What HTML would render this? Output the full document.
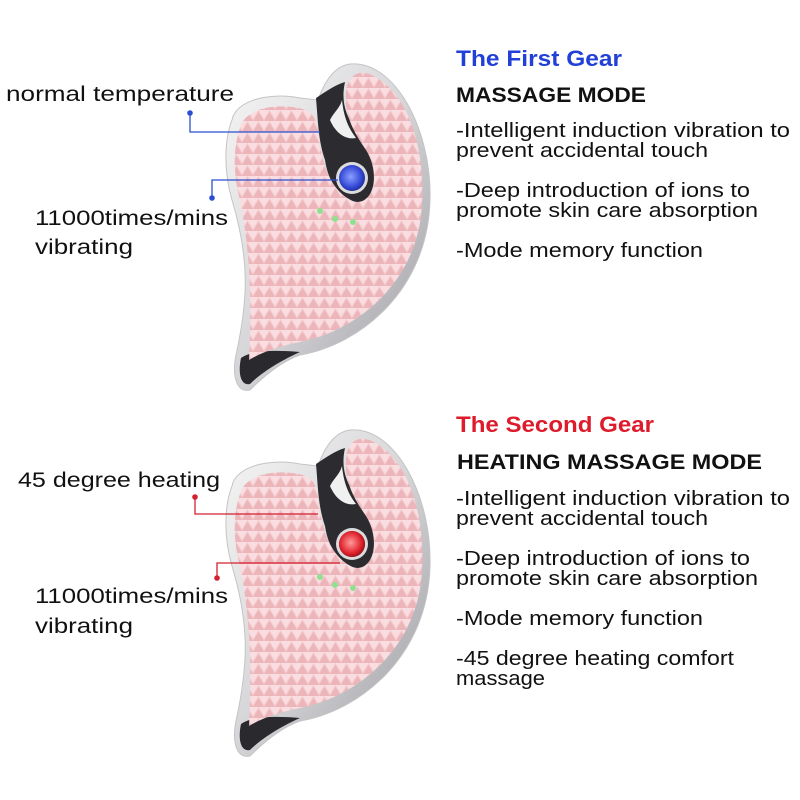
<!DOCTYPE html>
<html><head><meta charset="utf-8"><style>
html,body{margin:0;padding:0;background:#fff;}
svg{display:block;}
text{font-family:"Liberation Sans",sans-serif;}
</style></head><body>
<svg width="800" height="800" viewBox="0 0 800 800" xmlns="http://www.w3.org/2000/svg">
<defs>
<pattern id="tri" width="11" height="11" patternUnits="userSpaceOnUse">
<rect width="11" height="11" fill="#f4c9cc"/>
<path d="M0 11 L5.5 2 L11 11 Z" fill="#ecb5ba"/>
<path d="M0 0 L5.5 0 L0 9 Z M11 0 L5.5 0 L11 9Z" fill="#f9dde0"/>
</pattern>
<linearGradient id="silver" x1="0" y1="0" x2="1" y2="1">
<stop offset="0" stop-color="#f6f6f6"/><stop offset="0.5" stop-color="#d6d6d9"/><stop offset="1" stop-color="#9a9a9f"/>
</linearGradient>
<radialGradient id="blue" cx="0.45" cy="0.45" r="0.6"><stop offset="0" stop-color="#8aa0ff"/><stop offset="0.7" stop-color="#3347d6"/><stop offset="1" stop-color="#1d2a8a"/></radialGradient>
<radialGradient id="red" cx="0.45" cy="0.45" r="0.6"><stop offset="0" stop-color="#ff9a9a"/><stop offset="0.7" stop-color="#e0202a"/><stop offset="1" stop-color="#8a1015"/></radialGradient>
<g id="dev">
<path d="M232,120 C236,100 270,92 300,98 L318,100 C325,80 335,66 350,64 C395,60 432,130 430,200 C428,290 360,345 300,355 C280,362 262,378 250,390 C236,393 232,375 236,355 C248,300 250,260 232,200 C222,165 226,135 232,120 Z" fill="url(#silver)" stroke="#c4c4c4" stroke-width="1"/>
<path d="M250,384 C240,386 238,372 241,358 C252,350 275,350 300,352 C282,360 262,372 250,384Z" fill="#2a2a2e"/>
<path d="M316,98 C318,120 318,140 325,160 C330,195 355,210 372,198 C385,180 375,155 360,135 C348,120 340,105 345,82 C335,85 325,92 316,98 Z" fill="#2c2c30"/>
<path d="M330,120 C334,112 340,108 342,100 C344,120 350,130 356,138 C346,140 336,134 330,120Z" fill="#f0f0f0"/>
<path d="M240,128 C244,110 272,103 298,108 C312,110 316,118 318,130 C320,150 325,190 355,202 C375,204 380,172 366,150 C352,130 342,110 347,86 C352,72 362,70 374,76 C410,96 425,150 422,205 C418,280 360,330 300,342 C280,346 262,352 249,360 C252,300 250,250 240,200 C232,170 234,145 240,128 Z" fill="url(#tri)"/>
<circle cx="352" cy="178" r="16" fill="#dcdcdc"/>
<circle cx="352" cy="178" r="13" fill="url(#blue)"/>
<circle cx="320" cy="211" r="3" fill="#8fe08f"/>
<circle cx="335" cy="219" r="3" fill="#8fe08f"/>
<circle cx="353" cy="222" r="3" fill="#8fe08f"/>
</g>
</defs>
<use href="#dev"/>
<g transform="translate(0,366)"><use href="#dev"/></g>
<circle cx="352" cy="544" r="13" fill="url(#red)"/>

<g stroke="#2b4fd0" stroke-width="1.3" fill="none">
<path d="M190,113 V132 H320"/>
<path d="M212,198 V180 H338"/>
</g>
<circle cx="190" cy="113" r="2.8" fill="#2b4fd0"/>
<circle cx="212" cy="198" r="2.8" fill="#2b4fd0"/>
<g stroke="#d42030" stroke-width="1.3" fill="none">
<path d="M195,497 V514 H318"/>
<path d="M217,578 V563 H340"/>
</g>
<circle cx="195" cy="497" r="2.8" fill="#d42030"/>
<circle cx="217" cy="578" r="2.8" fill="#d42030"/>

<g font-size="21" fill="#111">
<text x="6" y="101" textLength="228" lengthAdjust="spacingAndGlyphs">normal temperature</text>
<text x="35" y="225" textLength="193" lengthAdjust="spacingAndGlyphs">11000times/mins</text>
<text x="35" y="254" textLength="98" lengthAdjust="spacingAndGlyphs">vibrating</text>
<text x="18" y="487" textLength="202" lengthAdjust="spacingAndGlyphs">45 degree heating</text>
<text x="35" y="603" textLength="193" lengthAdjust="spacingAndGlyphs">11000times/mins</text>
<text x="35" y="633" textLength="98" lengthAdjust="spacingAndGlyphs">vibrating</text>
</g>

<text x="456" y="66" font-size="22" font-weight="bold" fill="#2140d8" textLength="166" lengthAdjust="spacingAndGlyphs">The First Gear</text>
<text x="456" y="102" font-size="21" font-weight="bold" fill="#111" textLength="190" lengthAdjust="spacingAndGlyphs">MASSAGE MODE</text>
<g font-size="20" fill="#111">
<text x="456" y="137" textLength="334" lengthAdjust="spacingAndGlyphs">-Intelligent induction vibration to</text>
<text x="456" y="157" textLength="252" lengthAdjust="spacingAndGlyphs">prevent accidental touch</text>
<text x="456" y="197" textLength="294" lengthAdjust="spacingAndGlyphs">-Deep introduction of ions to</text>
<text x="456" y="217" textLength="302" lengthAdjust="spacingAndGlyphs">promote skin care absorption</text>
<text x="456" y="257" textLength="247" lengthAdjust="spacingAndGlyphs">-Mode memory function</text>
</g>

<text x="456" y="432" font-size="22" font-weight="bold" fill="#dd1b2b" textLength="198" lengthAdjust="spacingAndGlyphs">The Second Gear</text>
<text x="457" y="469" font-size="21" font-weight="bold" fill="#111" textLength="305" lengthAdjust="spacingAndGlyphs">HEATING MASSAGE MODE</text>
<g font-size="20" fill="#111">
<text x="456" y="505" textLength="334" lengthAdjust="spacingAndGlyphs">-Intelligent induction vibration to</text>
<text x="456" y="525" textLength="252" lengthAdjust="spacingAndGlyphs">prevent accidental touch</text>
<text x="456" y="565" textLength="294" lengthAdjust="spacingAndGlyphs">-Deep introduction of ions to</text>
<text x="456" y="585" textLength="302" lengthAdjust="spacingAndGlyphs">promote skin care absorption</text>
<text x="456" y="625" textLength="247" lengthAdjust="spacingAndGlyphs">-Mode memory function</text>
<text x="456" y="665" textLength="278" lengthAdjust="spacingAndGlyphs">-45 degree heating comfort</text>
<text x="456" y="685" textLength="89" lengthAdjust="spacingAndGlyphs">massage</text>
</g>
</svg>
</body></html>
